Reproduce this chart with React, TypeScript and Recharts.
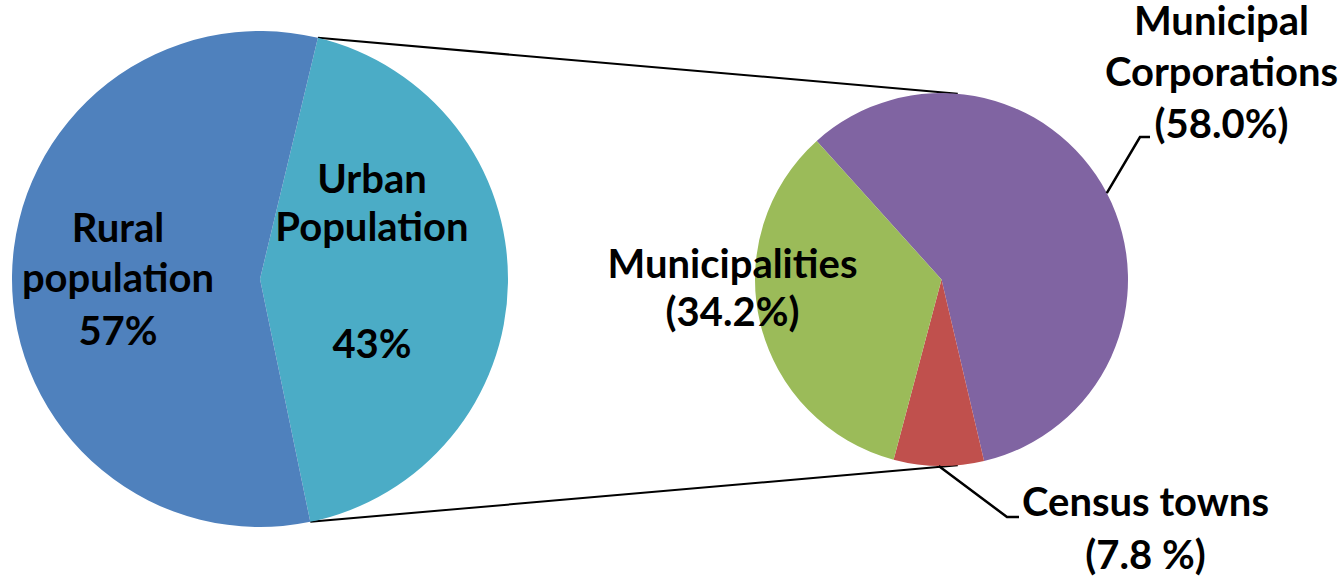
import React from 'react'
import { PieChart, Pie, Cell, Customized } from 'recharts'

// urban / rural split (left pie)
const populationNames = ['Urban Population', 'Rural population']
const populationShares = [43, 57]
const populationColors = ['#4BACC6', '#4F81BD']

// breakdown of the urban slice (right pie)
const urbanNames = ['Municipal Corporations', 'Census towns', 'Municipalities']
const urbanShares = [58.0, 7.8, 34.2]
const urbanShareLabels = ['(58.0%)', '(7.8 %)', '(34.2%)']
const urbanColors = ['#8064A2', '#C0504D', '#9BBB59']

const populationData = populationNames.map((name, i) => ({ name, value: populationShares[i] }))
const urbanData = urbanNames.map((name, i) => ({ name, value: urbanShares[i], label: urbanShareLabels[i] }))

const W = 1341
const H = 579
const FONT = 'Lato, Carlito, Calibri, sans-serif'
const FONT_SIZE = 40

const LEFT = { cx: 260, cy: 279, r: 248, start: 76.5 }
const RIGHT = { cx: 941.5, cy: 279.5, r: 186.5, start: 132 }
// where the connector lines meet the second pie
const LINK_ANGLE = 85

const RAD = Math.PI / 180
const polar = (cx: number, cy: number, r: number, deg: number) => ({
  x: cx + r * Math.cos(deg * RAD),
  y: cy - r * Math.sin(deg * RAD),
})

// text lines of every label: offsets from the pie centre (baselines)
type LabelLayout = { dx: number; lines: { text: string; dy: number }[]; leader?: number[][] }

const labelLayout: Record<string, LabelLayout> = {
  'Rural population': {
    dx: -142,
    lines: [
      { text: 'Rural', dy: -37 },
      { text: 'population', dy: 13 },
      { text: '57%', dy: 66 },
    ],
  },
  'Urban Population': {
    dx: 112,
    lines: [
      { text: 'Urban', dy: -86 },
      { text: 'Population', dy: -38 },
      { text: '43%', dy: 79 },
    ],
  },
  'Municipal Corporations': {
    dx: 280,
    lines: [
      { text: 'Municipal', dy: -245 },
      { text: 'Corporations', dy: -194 },
      { text: '', dy: -142 },
    ],
    leader: [[198.5, -142.5], [208.5, -142.5]],
  },
  Municipalities: {
    dx: -209,
    lines: [
      { text: 'Municipalities', dy: -2 },
      { text: '', dy: 46 },
    ],
  },
  'Census towns': {
    dx: 204,
    lines: [
      { text: 'Census towns', dy: 236 },
      { text: '', dy: 289 },
    ],
    leader: [[65.5, 237.5], [77.5, 237.5]],
  },
}

function renderLabel(props: any) {
  const { cx, cy, outerRadius, midAngle, name, payload } = props
  const layout = labelLayout[name]
  if (!layout) return null
  const x0 = Number(cx)
  const y0 = Number(cy)
  let leader = null
  if (layout.leader) {
    const p = polar(x0, y0, outerRadius, midAngle)
    const pts = [[p.x, p.y], ...layout.leader.map(([dx, dy]) => [x0 + dx, y0 + dy])]
    leader = (
      <polyline
        points={pts.map((q) => q.join(',')).join(' ')}
        fill="none"
        stroke="#000"
        strokeWidth={2.5}
      />
    )
  }
  return (
    <g>
      {leader}
      {layout.lines.map((l, i) => (
        <text
          key={i}
          x={x0 + layout.dx}
          y={y0 + l.dy}
          textAnchor="middle"
          fontFamily={FONT}
          fontWeight={700}
          fontSize={FONT_SIZE}
          fill="#000"
        >
          {l.text || payload?.label}
        </text>
      ))}
    </g>
  )
}

function Connectors() {
  const urbanSweep = (populationShares[0] / populationShares.reduce((a, b) => a + b, 0)) * 360
  const a = polar(LEFT.cx, LEFT.cy, LEFT.r, LEFT.start)
  const b = polar(LEFT.cx, LEFT.cy, LEFT.r, LEFT.start - urbanSweep)
  const c = polar(RIGHT.cx, RIGHT.cy, RIGHT.r, LINK_ANGLE)
  const d = polar(RIGHT.cx, RIGHT.cy, RIGHT.r, -LINK_ANGLE)
  return (
    <g>
      <line x1={a.x} y1={a.y} x2={c.x} y2={c.y} stroke="#000" strokeWidth={2} />
      <line x1={b.x} y1={b.y} x2={d.x} y2={d.y} stroke="#000" strokeWidth={2} />
    </g>
  )
}

export default function App() {
  return (
    <div style={{ position: 'absolute', left: 0, top: 0, width: W, height: H, background: '#fff' }}>
      <PieChart width={W} height={H} margin={{ top: 0, right: 0, bottom: 0, left: 0 }}>
        <Customized component={Connectors} />
        <Pie
          data={populationData}
          dataKey="value"
          nameKey="name"
          cx={LEFT.cx}
          cy={LEFT.cy}
          outerRadius={LEFT.r}
          startAngle={LEFT.start}
          endAngle={LEFT.start - 360}
          stroke="none"
          label={renderLabel}
          labelLine={false}
          isAnimationActive={false}
        >
          {populationData.map((d, i) => (
            <Cell key={d.name} fill={populationColors[i]} />
          ))}
        </Pie>
        <Pie
          data={urbanData}
          dataKey="value"
          nameKey="name"
          cx={RIGHT.cx}
          cy={RIGHT.cy}
          outerRadius={RIGHT.r}
          startAngle={RIGHT.start}
          endAngle={RIGHT.start - 360}
          stroke="none"
          label={renderLabel}
          labelLine={false}
          isAnimationActive={false}
        >
          {urbanData.map((d, i) => (
            <Cell key={d.name} fill={urbanColors[i]} />
          ))}
        </Pie>
      </PieChart>
    </div>
  )
}
